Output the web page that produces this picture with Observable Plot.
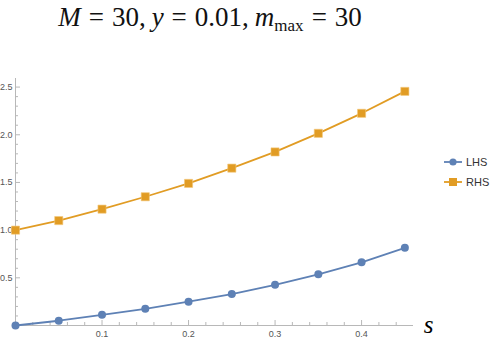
<!DOCTYPE html>
<html>
<head>
<meta charset="utf-8">
<script src="https://cdn.jsdelivr.net/npm/d3@7"></script>
<script src="https://cdn.jsdelivr.net/npm/@observablehq/plot@0.6"></script>
<style>
  html, body { margin: 0; padding: 0; background: #fff; }
  #wrap { position: relative; width: 498px; height: 344px; overflow: hidden; }
  #title { position: absolute; left: 0; width: 420px; top: 2px; text-align: center;
    font-family: "Liberation Serif", "DejaVu Serif", serif; font-size: 27px; color: #111; white-space: nowrap; }
  #title i { font-style: italic; }
  #title .op { margin: 0 8px; }
  #title .cm { margin-right: 6px; }
  #title sub { font-size: 17px; font-style: normal; vertical-align: -5px; line-height: 0; }
  #legend { position: absolute; left: 444px; top: 152px; font-family: "Liberation Sans", Arial, sans-serif;
    font-size: 11px; color: #333; }
  #legend .row { display: flex; align-items: center; height: 20px; }
  #legend svg { margin-right: 4px; }
  #chart { position: absolute; left: 0; top: 0; }
</style>
</head>
<body>
<div id="wrap">
  <div id="chart"></div>
  <div id="title"><i>M</i><span class="op">=</span>30,<span class="cm"></span><i>y</i><span class="op">=</span>0.01,<span class="cm"></span><i>m</i><sub>max</sub><span class="op">=</span>30</div>
  <div id="legend"></div>
</div>
<script>
const sValues = [0, 0.05, 0.1, 0.15, 0.2, 0.25, 0.3, 0.35, 0.4, 0.45];
const lhsValues = [0.0, 0.05, 0.112, 0.175, 0.25, 0.33, 0.426, 0.537, 0.663, 0.814];
const rhsValues = [1.0, 1.10, 1.22, 1.35, 1.49, 1.65, 1.82, 2.015, 2.225, 2.455];
const seriesNames = ["LHS", "RHS"];
const seriesColors = ["#5E81B5", "#E19C24"];
const xTickLabels = [0.1, 0.2, 0.3, 0.4];
const yTickLabels = [0.5, 1.0, 1.5, 2.0, 2.5];

const xMinor = d3.range(0, 46, 2).map(d => d / 100).filter(d => !xTickLabels.some(t => Math.abs(t - d) < 1e-9));
const yMinor = d3.range(0, 26, 1).map(d => d / 10).filter(d => !yTickLabels.some(t => Math.abs(t - d) < 1e-9));

const W = 498, H = 344;
const mL = 15, mR = 85, mT = 78, mB = 19;
const pw = W - mL - mR, ph = H - mT - mB;

const lhs = sValues.map((s, i) => ({s, v: lhsValues[i], series: seriesNames[0]}));
const rhs = sValues.map((s, i) => ({s, v: rhsValues[i], series: seriesNames[1]}));
const axisColor = "#b8b8b8";

const chart = Plot.plot({
  width: W, height: H,
  marginLeft: mL, marginRight: mR, marginTop: mT, marginBottom: mB,
  style: {background: "transparent", fontFamily: "Liberation Sans, Arial, sans-serif"},
  x: {domain: [0, 0.46], axis: null, label: null},
  y: {domain: [0, 2.59], axis: null, label: null},
  marks: [
    Plot.ruleY([0], {stroke: axisColor, strokeWidth: 1}),
    Plot.ruleX([0], {stroke: axisColor, strokeWidth: 1}),
    Plot.tickX(xTickLabels, {x: d => d, stroke: axisColor, insetTop: ph - 5}),
    Plot.tickX(xMinor, {x: d => d, stroke: axisColor, insetTop: ph - 3}),
    Plot.tickY(yTickLabels, {y: d => d, stroke: axisColor, insetRight: pw - 5}),
    Plot.tickY(yMinor, {y: d => d, stroke: axisColor, insetRight: pw - 3}),
    Plot.axisX(xTickLabels, {anchor: "bottom", tickSize: 0, tickPadding: 5, fontSize: 9, fill: "#555",
      label: null, tickFormat: d3.format(".1f")}),
    Plot.axisY(yTickLabels, {anchor: "left", tickSize: 0, tickPadding: 3, fontSize: 9, fill: "#555",
      label: null, tickFormat: d3.format(".1f")}),
    Plot.line(lhs, {x: "s", y: "v", stroke: seriesColors[0], strokeWidth: 1.8}),
    Plot.line(rhs, {x: "s", y: "v", stroke: seriesColors[1], strokeWidth: 1.8}),
    Plot.dot(lhs, {x: "s", y: "v", fill: seriesColors[0], r: 4, symbol: "circle"}),
    Plot.dot(rhs, {x: "s", y: "v", fill: seriesColors[1], stroke: "#f3c77a", strokeWidth: 0.6, r: 4.6, symbol: "square"}),
    Plot.text(["s"], {frameAnchor: "bottom-right", dx: 15, dy: -1, text: d => d,
      fontFamily: "Liberation Serif, DejaVu Serif, serif", fontStyle: "italic", fontSize: 25, fill: "#000",
      textAnchor: "middle", lineAnchor: "middle"})
  ]
});
document.getElementById("chart").appendChild(chart);

// legend
const legend = document.getElementById("legend");
seriesNames.forEach((name, i) => {
  const row = document.createElement("div");
  row.className = "row";
  const shape = i === 0
    ? `<circle cx="9" cy="6" r="3.6" fill="${seriesColors[i]}"/>`
    : `<rect x="5" y="2" width="8" height="8" fill="${seriesColors[i]}"/>`;
  row.innerHTML = `<svg width="18" height="12"><line x1="0" y1="6" x2="18" y2="6" stroke="${seriesColors[i]}" stroke-width="1.8"/>${shape}</svg><span>${name}</span>`;
  legend.appendChild(row);
});
</script>
</body>
</html>
